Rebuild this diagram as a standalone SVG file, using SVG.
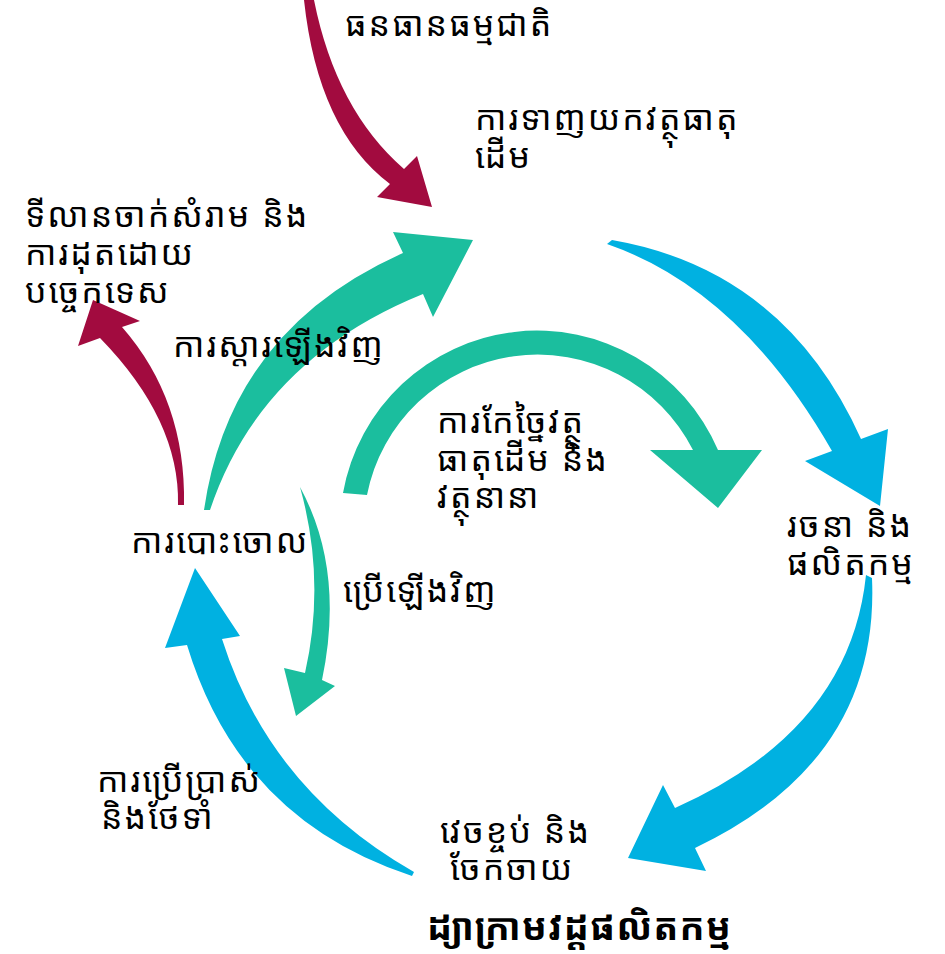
<svg xmlns="http://www.w3.org/2000/svg" width="945" height="954" viewBox="0 0 945 954">
<style>
.t{font-family:"Noto Sans Khmer","Khmer OS","Noto Sans","DejaVu Sans",sans-serif;font-size:34px;letter-spacing:2px;fill:#000}
.b{font-weight:bold;font-size:37px;letter-spacing:1px}
.red{fill:#A20B3F}
.blue{fill:#00B1E1}
.green{fill:#1BBE9E}
</style>
<rect width="945" height="954" fill="#fff"/>
<g id="connectors">
<path class="red" d="M304,0 Q318,130 390,184 L377,197 L432,207 L417,156 L404,169 Q336,110 314,0 Z"/>
<path class="blue" d="M607,244 Q740,290 832,451 L805,461 L880,506 L888,429 L861,439 Q785,270 612,240 Z"/>
<path class="blue" d="M866,575 Q850,730 675,808 L663,785 L628,858 L706,871 L695,848 Q880,760 872,578 Z"/>
<path class="blue" d="M412,876 Q240,820 187,645 L165,648 L195,568 L240,636 L222,639 Q270,790 414,872 Z"/>
<path class="green" d="M204,510 Q230,330 403,253 L393,232 L473,240 L433,317 L423,294 Q260,360 210,510 Z"/>
<path class="red" d="M178,505 Q180,420 100,338 L78,346 L93,300 L140,321 L122,327 Q186,400 184,505 Z"/>
<path class="green" d="M343,493 A197,197 0 0 1 718,450 L762,450 L718,508 L650,450 L693,450 A174,174 0 0 0 367,495 Z"/>
<path class="green" d="M300,487 Q345,570 322,680 L335,686 L296,716 L284,668 L305,673 Q326,580 300,487 Z"/>
</g>
<g id="n1"><text class="t" x="345" y="36">ធនធានធម្មជាតិ</text></g>
<g id="n2"><text class="t" x="475" y="130">ការទាញយកវត្ថុធាតុ</text><text class="t" x="475" y="168">ដើម</text></g>
<g id="n3"><text class="t" x="25" y="227">ទីលានចាក់សំរាម និង</text><text class="t" x="25" y="265">ការដុតដោយ</text><text class="t" x="25" y="303">បច្ចេកទេស</text></g>
<g id="n4"><text class="t" x="173" y="357">ការស្តារឡើងវិញ</text></g>
<g id="n5"><text class="t" x="437" y="433">ការកែច្នៃវត្ថុ</text><text class="t" x="437" y="471">ធាតុដើម និង</text><text class="t" x="437" y="508">វត្ថុនានា</text></g>
<g id="n6"><text class="t" x="787" y="537">រចនា និង</text><text class="t" x="787" y="575">ផលិតកម្ម</text></g>
<g id="n7"><text class="t" x="131" y="553">ការបោះចោល</text></g>
<g id="n8"><text class="t" x="343" y="602">ប្រើឡើងវិញ</text></g>
<g id="n9"><text class="t" x="97" y="792">ការប្រើប្រាស់</text><text class="t" x="101" y="829">និងថែទាំ</text></g>
<g id="n10"><text class="t" x="440" y="843">វេចខ្ចប់ និង</text><text class="t" x="450" y="880">ចែកចាយ</text></g>
<g id="title"><text class="t b" x="427" y="940">ដ្យាក្រាមវដ្តផលិតកម្ម</text></g>
</svg>
